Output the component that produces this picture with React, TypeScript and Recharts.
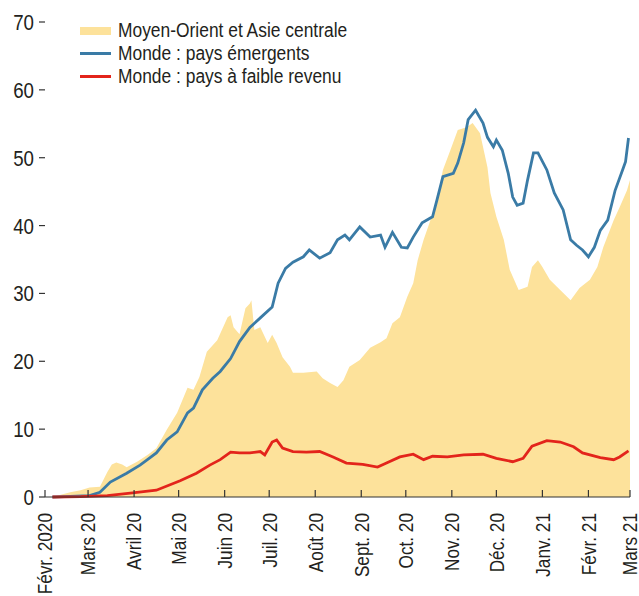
import { Area, ComposedChart, Line, XAxis, YAxis } from 'recharts';

// days counted from 1 Feb 2020
const monthTicks = [0, 29, 60, 90, 121, 151, 182, 213, 243, 274, 304, 335, 366, 394];
const monthLabels = [
  'Févr. 2020', 'Mars 20', 'Avril 20', 'Mai 20', 'Juin 20', 'Juil. 20', 'Août 20',
  'Sept. 20', 'Oct. 20', 'Nov. 20', 'Déc. 20', 'Janv. 21', 'Févr. 21', 'Mars 21',
];
const yTicks = [0, 10, 20, 30, 40, 50, 60, 70];
const seriesNames = [
  'Moyen-Orient et Asie centrale',
  'Monde : pays émergents',
  'Monde : pays à faible revenu',
];

const moyenOrient: [number, number][] = [
  [5, 0], [10, 0.3], [17, 0.7], [24, 1.0], [30, 1.4], [37, 1.5], [42, 3.7], [45, 4.8],
  [48, 5.1], [52, 4.8], [55, 4.4], [62, 5.2], [69, 6.2], [75, 7.2], [82, 9.9], [89, 12.4],
  [96, 16.1], [100, 15.8], [104, 17.7], [109, 21.4], [116, 23.1], [123, 26.5], [125, 26.8],
  [127, 25], [131, 24], [135, 27.8], [138, 28.5], [139, 29], [141, 24.6], [145, 25],
  [150, 22.7], [153, 23.9], [156, 22.7], [160, 20.6], [165, 19.2], [167, 18.3], [174, 18.3],
  [183, 18.5], [187, 17.5], [192, 16.8], [197, 16.2], [201, 17.2], [205, 19.2], [212, 20.2],
  [219, 22], [226, 22.8], [230, 23.4], [234, 25.6], [239, 26.5], [244, 29.5], [248, 31.5],
  [251, 34.9], [255, 37.9], [259, 40.4], [264, 43.8], [268, 48.2], [273, 51.1], [278, 54.1],
  [284, 54.5], [288, 55.1], [293, 53.6], [298, 48.6], [300, 44.8], [304, 41.3], [309, 37.9],
  [313, 33.5], [319, 30.5], [325, 31], [328, 33.9], [332, 34.9], [335, 33.9], [340, 32],
  [347, 30.5], [354, 29], [360, 30.8], [367, 32], [372, 33.9], [376, 36.8], [383, 40.8],
  [387, 42.7], [392, 45.2], [394, 46.7],
];

const emergents: [number, number][] = [
  [5, 0], [17, 0.1], [30, 0.2], [37, 0.7], [44, 2.2], [55, 3.5], [64, 4.7], [69, 5.5],
  [75, 6.5], [82, 8.4], [89, 9.6], [96, 12.4], [100, 13.1], [106, 15.8], [113, 17.5],
  [118, 18.5], [125, 20.4], [131, 22.9], [138, 25], [145, 26.4], [153, 28], [157, 31.5],
  [162, 33.7], [167, 34.6], [174, 35.4], [178, 36.4], [185, 35.2], [192, 36], [197, 37.9],
  [202, 38.6], [205, 37.9], [212, 39.8], [219, 38.3], [226, 38.6], [229, 36.8], [234, 39],
  [240, 36.8], [244, 36.7], [248, 38.3], [254, 40.4], [261, 41.3], [264, 43.8], [268, 47.2],
  [275, 47.7], [278, 49.2], [282, 52.2], [285, 55.6], [290, 57], [295, 55.1], [298, 53],
  [302, 51.6], [304, 52.6], [308, 51.1], [312, 47.7], [315, 44.2], [318, 43], [322, 43.3],
  [325, 46.7], [329, 50.7], [332, 50.7], [338, 48.2], [343, 44.8], [349, 42.3], [354, 37.9],
  [358, 37.1], [362, 36.4], [366, 35.4], [370, 36.8], [374, 39.3], [379, 40.8], [384, 45.2],
  [389, 48.2], [391, 49.4], [393, 52.9],
];

const faibleRevenu: [number, number][] = [
  [5, 0], [24, 0.05], [42, 0.2], [59, 0.6], [75, 1.0], [91, 2.4], [102, 3.5], [111, 4.7],
  [118, 5.5], [125, 6.6], [131, 6.5], [138, 6.5], [145, 6.7], [148, 6.2], [153, 8.1],
  [156, 8.4], [160, 7.2], [167, 6.7], [176, 6.6], [185, 6.7], [194, 5.9], [203, 5.0],
  [214, 4.8], [224, 4.4], [230, 5.0], [239, 5.9], [248, 6.3], [255, 5.5], [261, 6.0],
  [271, 5.9], [282, 6.2], [295, 6.3], [304, 5.7], [315, 5.2], [322, 5.7], [328, 7.5],
  [338, 8.3], [347, 8.1], [356, 7.4], [362, 6.5], [374, 5.8], [383, 5.5], [387, 5.9],
  [393, 6.8],
];

const toRows = (pts: [number, number][]) => pts.map(([day, value]) => ({ day, value }));

// no condensed font installed, so the sans is squeezed horizontally
const FONT = "'Liberation Sans', Arial, sans-serif";
const TEXT = '#231f20';
const YELLOW = '#fde29b';
const BLUE = '#3a7ba6';
const RED = '#e3241b';

const MonthTick = (props: any) => {
  const { x, y, payload } = props;
  const label = monthLabels[monthTicks.indexOf(payload.value)];
  return (
    <g>
      <line x1={x} x2={x} y1={y} y2={y - 7} stroke="#333" strokeWidth={1.2} />
      <text
        transform={`translate(${x},${y + 16}) rotate(-90) scale(0.82,1)`}
        textAnchor="end"
        dy="0.35em"
        fontSize={21}
        fontFamily={FONT}
        fill={TEXT}
      >
        {label}
      </text>
    </g>
  );
};

const ValueTick = (props: any) => {
  const { x, y, payload } = props;
  return (
    <text
      transform={`translate(${x},${y}) scale(0.85,1)`}
      textAnchor="end"
      dy="0.36em"
      fontSize={22}
      fontFamily={FONT}
      fill={TEXT}
    >
      {payload.value}
    </text>
  );
};

const legendSwatches = [
  { color: YELLOW, height: 8 },
  { color: BLUE, height: 3 },
  { color: RED, height: 3 },
];

export default function App() {
  return (
    <div style={{ position: 'absolute', left: 0, top: 0, width: 639, height: 596, background: '#fff' }}>
      <ComposedChart width={639} height={596} margin={{ top: 22, right: 0, bottom: 0, left: 0 }}>
        <YAxis
          yAxisId="left"
          type="number"
          domain={[0, 70]}
          ticks={yTicks}
          width={45}
          axisLine={false}
          tickLine={{ stroke: '#333', strokeWidth: 1.2 }}
          tickSize={6}
          tickMargin={5}
          tick={<ValueTick />}
        />
        <YAxis
          yAxisId="right"
          orientation="right"
          type="number"
          domain={[0, 70]}
          ticks={yTicks}
          width={9}
          axisLine={false}
          tickLine={{ stroke: '#333', strokeWidth: 1.2 }}
          tickSize={7}
          tick={false}
        />
        <Area
          yAxisId="left"
          data={toRows(moyenOrient)}
          dataKey="value"
          type="linear"
          fill={YELLOW}
          fillOpacity={1}
          stroke="none"
          isAnimationActive={false}
        />
        <Line
          yAxisId="left"
          data={toRows(emergents)}
          dataKey="value"
          type="linear"
          stroke={BLUE}
          strokeWidth={2.8}
          dot={false}
          isAnimationActive={false}
        />
        <Line
          yAxisId="left"
          data={toRows(faibleRevenu)}
          dataKey="value"
          type="linear"
          stroke={RED}
          strokeWidth={2.8}
          dot={false}
          isAnimationActive={false}
        />
        <XAxis
          xAxisId={0}
          dataKey="day"
          type="number"
          domain={[0, 394]}
          ticks={monthTicks}
          allowDataOverflow
          height={99}
          axisLine={{ stroke: '#333', strokeWidth: 1.2 }}
          tickLine={false}
          tickSize={0}
          tickMargin={0}
          interval={0}
          tick={<MonthTick />}
        />
      </ComposedChart>
      <div style={{ position: 'absolute', left: 80, top: 19, fontFamily: FONT, fontSize: 20, color: TEXT }}>
        {seriesNames.map((name, i) => (
          <div key={name} style={{ display: 'flex', alignItems: 'center', height: 23 }}>
            <div style={{ width: 31, height: legendSwatches[i].height, background: legendSwatches[i].color, marginRight: 7 }} />
            <span style={{ whiteSpace: 'nowrap', display: 'inline-block', transform: 'scaleX(0.87)', transformOrigin: 'left center' }}>
              {name}
            </span>
          </div>
        ))}
      </div>
    </div>
  );
}
